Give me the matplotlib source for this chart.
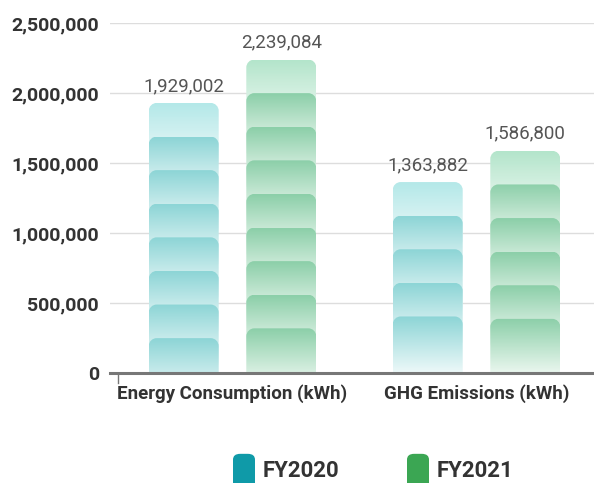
import numpy as np
import matplotlib
matplotlib.use("Agg")
import matplotlib.pyplot as plt
from matplotlib.path import Path
from matplotlib.patches import PathPatch, FancyBboxPatch
from matplotlib.colors import to_rgb

categories = ["Energy Consumption (kWh)", "GHG Emissions (kWh)"]
years = ["FY2020", "FY2021"]
fy2020 = [1929002, 1363882]
fy2021 = [2239084, 1586800]
yticks = [0, 500000, 1000000, 1500000, 2000000, 2500000]

W, H = 594, 483
fig = plt.figure(figsize=(W / 100, H / 100), dpi=100)
ax = fig.add_axes([110 / W, (H - 373) / H, (W - 110) / W, 350 / H])

x_left = (110 - 232.5) / 244
x_right = (594 - 232.5) / 244

px_x = 1 / 244            # x units per pixel
px_y = 500000 / 70        # y units per pixel
step = 240000             # repeat spacing of the stacked blocks
seg_h = 60 * px_y         # gradient height of one block
rx, ry = 8 * px_x, 8 * px_y
width = 70 * px_x

styles = {
    "FY2020": dict(top=("#b3e8e8", "#eef9f9"), body=("#8dd5d6", "#f3fbfb"), solid="#0f9aa8"),
    "FY2021": dict(top=("#b3e5cb", "#eef8f2"), body=("#8ccfa9", "#f4fbf6"), solid="#3ba653"),
}


def block_path(x0, x1, y0, y1):
    k = 0.5523
    verts = [(x0, y0), (x0, y1 - ry),
             (x0, y1 - ry + k * ry), (x0 + rx - k * rx, y1), (x0 + rx, y1),
             (x1 - rx, y1),
             (x1 - rx + k * rx, y1), (x1, y1 - ry + k * ry), (x1, y1 - ry),
             (x1, y0), (x0, y0)]
    codes = [Path.MOVETO, Path.LINETO,
             Path.CURVE4, Path.CURVE4, Path.CURVE4,
             Path.LINETO,
             Path.CURVE4, Path.CURVE4, Path.CURVE4,
             Path.LINETO, Path.CLOSEPOLY]
    return Path(verts, codes)


def gradient(c_top, c_bot, n=64):
    a = np.array(to_rgb(c_top))
    b = np.array(to_rgb(c_bot))
    t = np.linspace(0, 1, n)[:, None]
    return (a * (1 - t) + b * t)[:, None, :]


def draw_bar(xc, value, st, z0):
    x0, x1 = xc - width / 2, xc + width / 2
    n = int(value // step)
    for i in range(n):
        colors = st["top"] if i == 0 else st["body"]
        y1 = value - i * step
        last = i == n - 1
        y0 = 0 if last else max(y1 - seg_h, 0)
        g0 = min(y1 - seg_h, 0) if last else y1 - seg_h
        patch = PathPatch(block_path(x0, x1, y0, y1), facecolor="none",
                          edgecolor="none")
        ax.add_patch(patch)
        im = ax.imshow(gradient(*colors), extent=[x0, x1, g0, y1],
                       aspect="auto", origin="upper", zorder=z0 + i,
                       interpolation="bilinear")
        im.set_clip_path(patch)


for ci in range(len(categories)):
    draw_bar(ci - 0.2, fy2020[ci], styles["FY2020"], 3)
    draw_bar(ci + 0.2, fy2021[ci], styles["FY2021"], 3)
    for off, v in ((-0.2, fy2020[ci]), (0.2, fy2021[ci])):
        ax.text(ci + off, v + 8 * px_y, f"{v:,}", ha="center", va="bottom",
                fontsize=13.5, color="#555555", family="Roboto", fontweight="normal",
                zorder=20)

ax.set_xlim(x_left, x_right)
ax.set_ylim(0, 2500000)

ax.set_yticks(yticks)
ax.set_yticklabels([f"{v:,}" for v in yticks], fontsize=14, fontweight="bold",
                   color="#333333", family="Roboto")
ax.tick_params(axis="y", length=0, pad=8)
ax.set_xticks(range(len(categories)))
ax.set_xticklabels(categories, fontsize=13.5, fontweight="bold", color="#333333",
                   family="Roboto")
ax.tick_params(axis="x", length=0, pad=8)
ax.grid(axis="y", color="#dddddd", linewidth=1)
ax.set_axisbelow(True)
for s in ax.spines.values():
    s.set_visible(False)
ax.axhline(0, color="#777777", linewidth=2.2, zorder=30, clip_on=False)
ax.plot([x_left + 8 * px_x] * 2, [0, -10 * px_y], color="#777777", lw=1,
        clip_on=False, zorder=30)

# legend
for lx, tx, yr in ((233, 263, "FY2020"), (407, 437, "FY2021")):
    sq = FancyBboxPatch((lx / W, -0.05), 22 / W, (H - 449) / H + 0.04,
                        boxstyle="round,pad=0,rounding_size=0.012",
                        transform=fig.transFigure, facecolor=styles[yr]["solid"],
                        edgecolor="none")
    fig.add_artist(sq)
    fig.text(tx / W, 0.8 / H, yr, fontsize=16, fontweight="bold",
             color="#333333", family="Roboto", ha="left", va="bottom")

fig.savefig("out.png", dpi=100)
